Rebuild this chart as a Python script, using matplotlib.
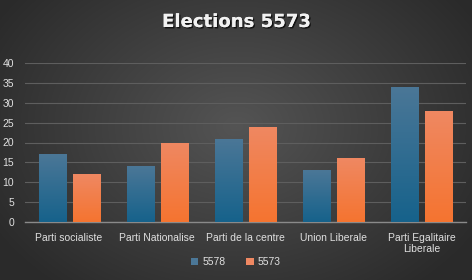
import matplotlib
matplotlib.use("Agg")
import matplotlib.pyplot as plt
import matplotlib.patheffects as pe
import numpy as np

categories = ["Parti socialiste", "Parti Nationalise", "Parti de la centre",
              "Union Liberale", "Parti Egalitaire\nLiberale"]
series_names = ["5578", "5573"]
values_5578 = [17, 14, 21, 13, 34]
values_5573 = [12, 20, 24, 16, 28]
title = "Elections 5573"

W, H = 472, 280
fig = plt.figure(figsize=(W / 100, H / 100), dpi=100)

# radial background gradient
bg = fig.add_axes([0, 0, 1, 1], zorder=-10)
yy, xx = np.mgrid[0:H, 0:W]
r = np.sqrt(((xx - W * 0.5) / (W * 0.6)) ** 2 + ((yy - H * 0.45) / (H * 0.75)) ** 2)
r = np.clip(r, 0, 1)
c0 = np.array([0x54, 0x54, 0x54]) / 255
c1 = np.array([0x2a, 0x2a, 0x2a]) / 255
img = c0[None, None, :] * (1 - r[..., None]) + c1[None, None, :] * r[..., None]
bg.imshow(img, aspect="auto", extent=[0, 1, 0, 1])
bg.axis("off")

ax = fig.add_axes([25 / W, 1 - 222 / H, 441 / W, (222 - 63) / H])
ax.set_facecolor("none")
x = np.arange(len(categories))
off = 0.193
bw = 0.307

def grad_bars(xs, vals, top, bot, label):
    bars = ax.bar(xs, vals, bw, color=top, label=label, zorder=3)
    g = np.linspace(0, 1, 100)[:, None]
    top = np.array(matplotlib.colors.to_rgb(top))
    bot = np.array(matplotlib.colors.to_rgb(bot))
    cimg = top[None, None, :] * (1 - g[..., None]) + bot[None, None, :] * g[..., None]
    cimg = np.repeat(cimg, 2, axis=1)
    for b in bars:
        x0, y0 = b.get_x(), b.get_y()
        im = ax.imshow(cimg, aspect="auto", extent=[x0, x0 + b.get_width(), y0, y0 + b.get_height()],
                       zorder=4)
        im.set_clip_path(b)
    return bars

grad_bars(x - off, values_5578, "#4b7797", "#16628b", series_names[0])
grad_bars(x + off, values_5573, "#ef8862", "#f57430", series_names[1])

ax.set_xlim(-0.5, len(categories) - 0.5)
ax.set_ylim(0, 40)
ax.set_yticks(np.arange(0, 41, 5))
ax.grid(axis="y", color="#5e5e5e", linewidth=0.8, zorder=0)
ax.set_axisbelow(True)
for s in ["top", "right", "left"]:
    ax.spines[s].set_visible(False)
ax.spines["bottom"].set_color("#8a8a8a")
ax.spines["bottom"].set_linewidth(1.0)
ax.set_xticks(x)
ax.set_xticklabels(categories, linespacing=1.1)
ax.tick_params(axis="both", length=0, colors="#e0e0e0", labelsize=7.5)
ax.tick_params(axis="x", pad=8)
ax.tick_params(axis="y", pad=8)
for t in ax.get_xticklabels() + ax.get_yticklabels():
    t.set_family(["Liberation Sans", "DejaVu Sans"])
    t.set_color("#e0e0e0")
ax.set_xlim(-0.5, len(categories) - 0.5)

leg = fig.legend(loc="center", bbox_to_anchor=(0.5, 1 - 262 / H), ncol=2, frameon=False,
                 handlelength=0.7, handleheight=0.7, handletextpad=0.4,
                 columnspacing=2.0, prop={"family": "Liberation Sans", "size": 7.5})
for t in leg.get_texts():
    t.set_color("#e0e0e0")

fig.text(0.5, 1 - 22 / H, title, ha="center", va="center", color="#f2f2f2",
         fontsize=13, fontweight="bold", family="DejaVu Sans",
         path_effects=[pe.withSimplePatchShadow(offset=(1, -1), shadow_rgbFace="black", alpha=0.7),
                       pe.Normal()])

fig.savefig("out.png", dpi=100)
